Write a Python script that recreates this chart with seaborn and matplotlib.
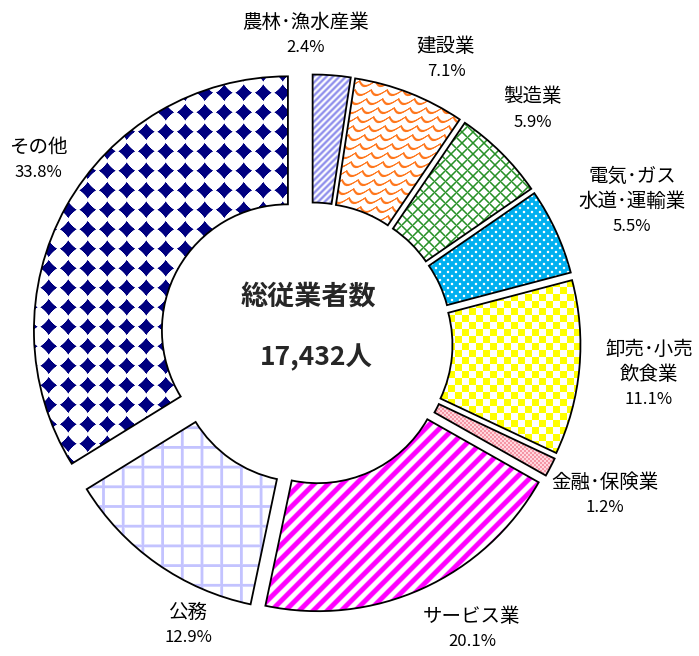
import numpy as np
import matplotlib
matplotlib.use("Agg")
import matplotlib.pyplot as plt
import seaborn as sns

# ---------------- data ----------------
categories = ["農林･漁水産業", "建設業", "製造業", "電気･ガス\n水道･運輸業",
              "卸売･小売\n飲食業", "金融･保険業", "サービス業", "公務", "その他"]
shares = [2.4, 7.1, 5.9, 5.5, 11.1, 1.2, 20.1, 12.9, 33.8]
center_title = "総従業者数"
center_total = "17,432人"

# ---------------- style ----------------
sns.set_theme(style="white")
plt.rcParams["font.family"] = ["Noto Sans CJK JP", "DejaVu Sans"]

W, H = 699, 656
CX, CY = 311.5, H - 343.5
R_OUT, R_IN = 254, 126
explode = [15, 15, 15, 15, 15, 15, 15, 15, 27]
base_colors = ["#9a9af0", "#ff7f27", "#2f962f", "#00b0f0", "#ffff00",
               "#f8a0b0", "#ff00ff", "#c3c3ff", "#000080"]

# label anchor positions (first line centre, image pixel coords)
label_pos = [(306, 22), (446, 46), (533, 97), (632, 176), (649, 349),
             (605, 482), (472, 616), (188, 612), (38, 147)]
LINE = 25.3

# ---------------- textures ----------------
Yg, Xg = np.mgrid[0:H, 0:W].astype(float) + 0.5


def rgb(c):
    return np.array(c, dtype=float) / 255.0


def blend(a, fg, bg=(255, 255, 255)):
    a = np.clip(a, 0, 1)[..., None]
    return a * rgb(fg) + (1 - a) * rgb(bg)


def line_dist(v, p):
    m = np.mod(v, p)
    return np.minimum(m, p - m)


tex = []
# 農林: lavender diagonal stripes
tex.append(blend(0.5 + 0.5 * np.cos(2 * np.pi * (Xg + Yg) / 6.5), (140, 140, 235)))
# 建設: orange scallops
f = Yg - 5 * np.abs(np.sin(np.pi * (Xg + 0.5 * Yg) / 16.0))
tex.append(blend(1.6 - line_dist(f, 9.0), (255, 120, 30)))
# 製造: green diagonal grid
d = np.minimum(line_dist(Xg + Yg, 11.0), line_dist(Xg - Yg, 11.0)) / np.sqrt(2)
tex.append(blend(1.3 - d, (40, 145, 40)))
# 電気: blue with white dots
ds = line_dist(Xg + Yg, 8.0) / np.sqrt(2)
dt = line_dist(Xg - Yg, 8.0) / np.sqrt(2)
tex.append(blend(1.7 - np.sqrt(ds ** 2 + dt ** 2), (255, 255, 255), (0, 176, 240)))
# 卸売: yellow checkerboard
chk = np.mod(np.floor(Xg / 7.0) + np.floor(Yg / 7.0), 2)
tex.append(blend(chk, (255, 255, 0)))
# 金融: fine pink check
chk2 = np.mod(np.floor(Xg / 2.0) + np.floor(Yg / 2.0), 2)
tex.append(blend(chk2, (245, 150, 165), (255, 215, 222)))
# サービス: magenta stripes
tex.append(blend(0.5 + 1.3 * np.cos(2 * np.pi * (Xg + Yg) / 14.0), (255, 0, 255)))
# 公務: lavender grid
g = np.minimum(line_dist(Xg - 5, 19.7), line_dist(Yg - 14, 19.7))
tex.append(blend(1.9 - g, (195, 195, 255)))
# その他: navy diamonds
P = 19.5
u = np.abs(np.mod(Xg, P) - P / 2)
v = np.abs(np.mod(Yg - 5, P) - P / 2)
met = (u ** 0.85 + v ** 0.85) ** (1 / 0.85)
tex.append(blend(9.0 - met, (0, 0, 128)))

# ---------------- figure ----------------
fig = plt.figure(figsize=(W / 100, H / 100), dpi=100)
ax = fig.add_axes([0, 0, 1, 1])

wedges, _ = ax.pie(shares, startangle=90, counterclock=False, explode=explode,
                   radius=R_OUT, center=(CX, CY), colors=base_colors, frame=True,
                   wedgeprops=dict(width=R_OUT - R_IN, edgecolor="black", linewidth=1.3))

for w, t in zip(wedges, tex):
    im = ax.imshow(t, extent=(0, W, 0, H), origin="upper", interpolation="nearest", zorder=1)
    im.set_clip_path(w)
    w.set_facecolor("none")
    w.set_zorder(3)

# labels
for name, val, (lx, ly) in zip(categories, shares, label_pos):
    lines = name.split("\n")
    for i, s in enumerate(lines):
        ax.text(lx, H - (ly + i * LINE), s, ha="center", va="center", fontsize=14, color="black")
    ax.text(lx, H - (ly + len(lines) * LINE), f"{val:.1f}%", ha="center", va="center",
            fontsize=12, color="black")

ax.text(308, H - 297, center_title, ha="center", va="center", fontsize=19.5, fontweight="bold")
ax.text(316, H - 358, center_total, ha="center", va="center", fontsize=19, fontweight="bold")

ax.set_xlim(0, W)
ax.set_ylim(0, H)
ax.set_aspect("equal")
ax.axis("off")
fig.savefig("out.png", dpi=100)
